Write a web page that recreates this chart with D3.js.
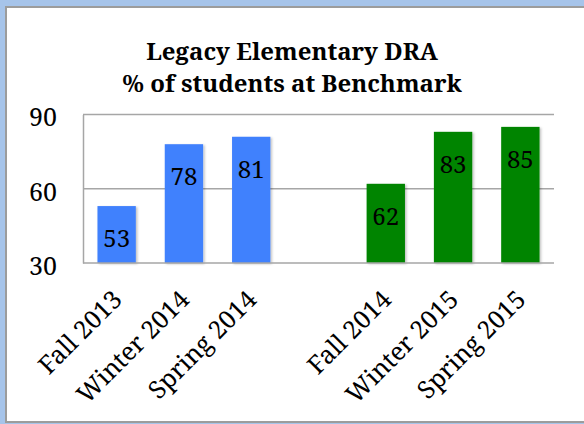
<!DOCTYPE html>
<html>
<head>
<meta charset="utf-8">
<script src="https://cdn.jsdelivr.net/npm/d3@7"></script>
<style>
  body { margin: 0; background: #a6c4ea; }
  #chart { position: absolute; left: 0; top: 0; }
</style>
</head>
<body>
<div id="chart"></div>
<script>
// categories, with an empty slot between the two school years
var categories = ["Fall 2013", "Winter 2014", "Spring 2014", "", "Fall 2014", "Winter 2015", "Spring 2015"];
var year1 = [53, 78, 81, null, null, null, null];
var year2 = [null, null, null, null, 62, 83, 85];
var yTicks = [30, 60, 90];
var titleLines = ["Legacy Elementary DRA", "% of students at Benchmark"];

var W = 584, H = 424;
var FONT = "'Noto Serif', 'DejaVu Serif', serif";
var margin = { top: 114.5, right: 30, bottom: 161, left: 83 },
    width = W - margin.left - margin.right,
    height = H - margin.top - margin.bottom;

var root = d3.select("#chart")
    .append("svg")
    .attr("width", W)
    .attr("height", H);

// frame: blue outer, white panel, gray edge
root.append("rect").attr("x", 0).attr("y", 0).attr("width", W).attr("height", H).attr("fill", "#a6c4ea");
root.append("rect").attr("x", 5).attr("y", 6).attr("width", W).attr("height", 417).attr("fill", "#9c9c9c");
root.append("rect").attr("x", 7).attr("y", 8).attr("width", W).attr("height", 413).attr("fill", "#ffffff");

var defs = root.append("defs");
var f = defs.append("filter").attr("id", "shadow")
    .attr("x", "-20%").attr("y", "-20%").attr("width", "150%").attr("height", "150%");
f.append("feDropShadow").attr("dx", 1.5).attr("dy", 1).attr("stdDeviation", 1.2)
    .attr("flood-color", "#000").attr("flood-opacity", 0.25);

// title
root.append("g")
    .selectAll("text")
    .data(titleLines)
    .join("text")
    .attr("x", 292)
    .attr("y", (d, i) => 60 + i * 32)
    .attr("text-anchor", "middle")
    .attr("font-family", FONT)
    .attr("font-weight", "bold")
    .attr("font-size", 24)
    .text(d => d);

var svg = root.append("g")
    .attr("transform", "translate(" + margin.left + "," + margin.top + ")");

var x = d3.scaleBand()
    .domain(d3.range(categories.length))
    .range([0, width])
    .paddingInner(0.43)
    .paddingOuter(0.215);

var y = d3.scaleLinear()
    .domain([30, 90])
    .range([height, 0]);

// gridlines
svg.append("g")
    .selectAll("line")
    .data(yTicks.slice(1))
    .join("line")
    .attr("x1", 0).attr("x2", width)
    .attr("y1", d => y(d)).attr("y2", d => y(d))
    .attr("stroke", "#a6a6a6")
    .attr("stroke-width", 1.5);

// y axis
var yAxis = svg.append("g")
    .call(d3.axisLeft(y).tickValues(yTicks).tickSize(0).tickPadding(26));
yAxis.select(".domain").attr("stroke", "#a6a6a6").attr("stroke-width", 1.5);
yAxis.selectAll("text")
    .attr("font-family", FONT)
    .attr("font-size", 25)
    .attr("fill", "#000")
    .attr("dy", "0.45em");

// bars
var series = [
    { values: year1, color: "#4181fd" },
    { values: year2, color: "#008400" }
];
series.forEach(function (s) {
    var pts = s.values.map((v, i) => ({ i: i, v: v })).filter(d => d.v != null);
    svg.append("g")
        .selectAll("rect")
        .data(pts)
        .join("rect")
        .attr("x", d => x(d.i))
        .attr("y", d => y(d.v))
        .attr("width", x.bandwidth())
        .attr("height", d => height - y(d.v))
        .attr("fill", s.color)
        .attr("filter", "url(#shadow)");
    svg.append("g")
        .selectAll("text")
        .data(pts)
        .join("text")
        .attr("x", d => x(d.i) + x.bandwidth() / 2)
        .attr("y", d => y(d.v) + 41)
        .attr("text-anchor", "middle")
        .attr("font-family", FONT)
        .attr("font-size", 24)
        .attr("fill", "#000")
        .text(d => d.v);
});

// x axis line
svg.append("line")
    .attr("x1", 0).attr("x2", width)
    .attr("y1", height).attr("y2", height)
    .attr("stroke", "#a6a6a6")
    .attr("stroke-width", 1.5);

// x labels, rotated
svg.append("g")
    .selectAll("text")
    .data(categories.map((c, i) => ({ c: c, i: i })).filter(d => d.c !== ""))
    .join("text")
    .attr("transform", d => "translate(" + (x(d.i) + x.bandwidth() / 2 + 7) + "," + (height + 38) + ") rotate(-45)")
    .attr("text-anchor", "end")
    .attr("font-family", FONT)
    .attr("font-size", 25)
    .attr("fill", "#000")
    .text(d => d.c);
</script>
</body>
</html>
